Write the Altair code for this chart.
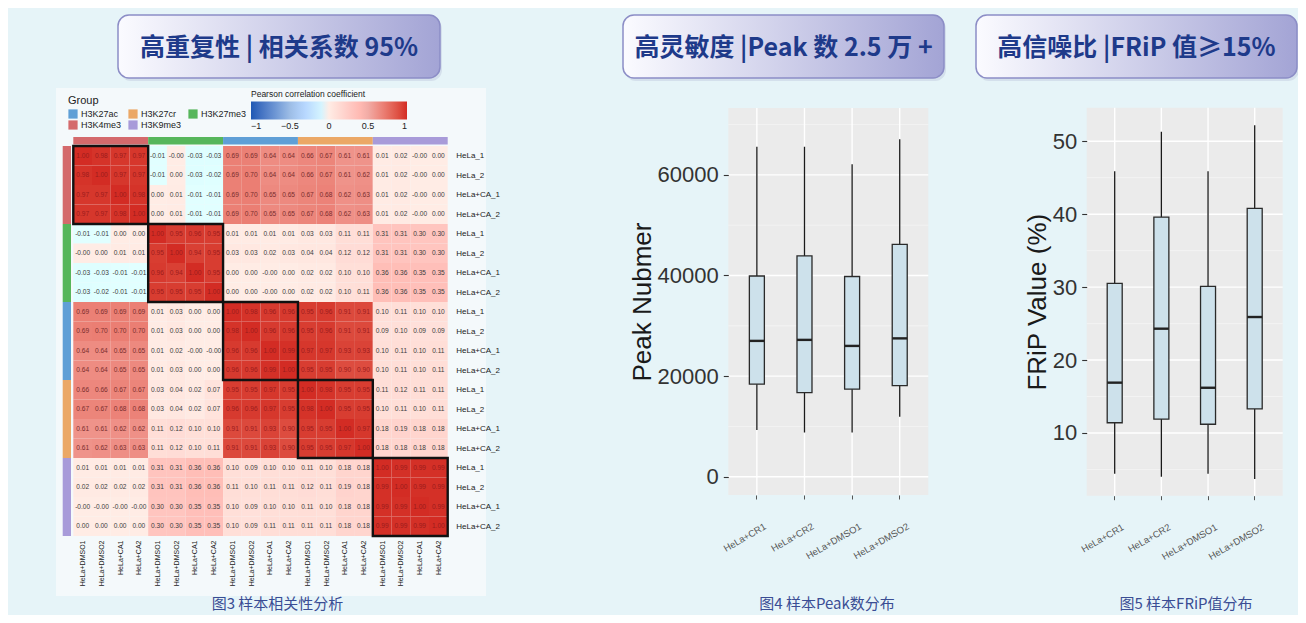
import altair as alt
import pandas as pd

# ---------------- data ----------------
groups = ["H3K4me3", "H3K27me3", "H3K27ac", "H3K27cr", "H3K9me3"]
legend_groups = ["H3K27ac", "H3K27cr", "H3K27me3", "H3K4me3", "H3K9me3"]
legend_colors = ["#5f9fd6", "#eba866", "#56b65b", "#d46a6c", "#a89bd9"]
row_names = ["HeLa_1", "HeLa_2", "HeLa+CA_1", "HeLa+CA_2"]
col_names = ["HeLa+DMSO1", "HeLa+DMSO2", "HeLa+CA1", "HeLa+CA2"]

corr_H3K4me3 = [
    [1.00, 0.98, 0.97, 0.97, -0.01, -0.0, -0.03, -0.03, 0.69, 0.69, 0.64, 0.64, 0.66, 0.67, 0.61, 0.61, 0.01, 0.02, -0.0, 0.00],
    [0.98, 1.00, 0.97, 0.97, -0.01, 0.00, -0.03, -0.02, 0.69, 0.70, 0.64, 0.64, 0.66, 0.67, 0.61, 0.62, 0.01, 0.02, -0.0, 0.00],
    [0.97, 0.97, 1.00, 0.98, 0.00, 0.01, -0.01, -0.01, 0.69, 0.70, 0.65, 0.65, 0.67, 0.68, 0.62, 0.63, 0.01, 0.02, -0.0, 0.00],
    [0.97, 0.97, 0.98, 1.00, 0.00, 0.01, -0.01, -0.01, 0.69, 0.70, 0.65, 0.65, 0.67, 0.68, 0.62, 0.63, 0.01, 0.02, -0.0, 0.00],
]
corr_H3K27me3 = [
    [-0.01, -0.01, 0.00, 0.00, 1.00, 0.95, 0.96, 0.95, 0.01, 0.01, 0.01, 0.01, 0.03, 0.03, 0.11, 0.11, 0.31, 0.31, 0.30, 0.30],
    [-0.0, 0.00, 0.01, 0.01, 0.95, 1.00, 0.94, 0.95, 0.03, 0.03, 0.02, 0.03, 0.04, 0.04, 0.12, 0.12, 0.31, 0.31, 0.30, 0.30],
    [-0.03, -0.03, -0.01, -0.01, 0.96, 0.94, 1.00, 0.95, 0.00, 0.00, -0.0, 0.00, 0.02, 0.02, 0.10, 0.10, 0.36, 0.36, 0.35, 0.35],
    [-0.03, -0.02, -0.01, -0.01, 0.95, 0.95, 0.95, 1.00, 0.00, 0.00, -0.0, 0.00, 0.02, 0.02, 0.10, 0.11, 0.36, 0.36, 0.35, 0.35],
]
corr_H3K27ac = [
    [0.69, 0.69, 0.69, 0.69, 0.01, 0.03, 0.00, 0.00, 1.00, 0.98, 0.96, 0.96, 0.95, 0.96, 0.91, 0.91, 0.10, 0.11, 0.10, 0.10],
    [0.69, 0.70, 0.70, 0.70, 0.01, 0.03, 0.00, 0.00, 0.98, 1.00, 0.96, 0.96, 0.95, 0.96, 0.91, 0.91, 0.09, 0.10, 0.09, 0.09],
    [0.64, 0.64, 0.65, 0.65, 0.01, 0.02, -0.0, -0.0, 0.96, 0.96, 1.00, 0.99, 0.97, 0.97, 0.93, 0.93, 0.10, 0.11, 0.10, 0.11],
    [0.64, 0.64, 0.65, 0.65, 0.01, 0.03, 0.00, 0.00, 0.96, 0.96, 0.99, 1.00, 0.95, 0.95, 0.90, 0.90, 0.10, 0.11, 0.10, 0.11],
]
corr_H3K27cr = [
    [0.66, 0.66, 0.67, 0.67, 0.03, 0.04, 0.02, 0.07, 0.95, 0.95, 0.97, 0.95, 1.00, 0.98, 0.95, 0.95, 0.11, 0.12, 0.11, 0.11],
    [0.67, 0.67, 0.68, 0.68, 0.03, 0.04, 0.02, 0.07, 0.96, 0.96, 0.97, 0.95, 0.98, 1.00, 0.95, 0.95, 0.10, 0.11, 0.10, 0.11],
    [0.61, 0.61, 0.62, 0.62, 0.11, 0.12, 0.10, 0.10, 0.91, 0.91, 0.93, 0.90, 0.95, 0.95, 1.00, 0.97, 0.18, 0.19, 0.18, 0.18],
    [0.61, 0.62, 0.63, 0.63, 0.11, 0.12, 0.10, 0.11, 0.91, 0.91, 0.93, 0.90, 0.95, 0.95, 0.97, 1.00, 0.18, 0.18, 0.18, 0.18],
]
corr_H3K9me3 = [
    [0.01, 0.01, 0.01, 0.01, 0.31, 0.31, 0.36, 0.36, 0.10, 0.09, 0.10, 0.10, 0.11, 0.10, 0.18, 0.18, 1.00, 0.99, 0.99, 0.99],
    [0.02, 0.02, 0.02, 0.02, 0.31, 0.31, 0.36, 0.36, 0.11, 0.10, 0.11, 0.11, 0.12, 0.11, 0.19, 0.18, 0.99, 1.00, 0.99, 0.99],
    [-0.0, -0.0, -0.0, -0.0, 0.30, 0.30, 0.35, 0.35, 0.10, 0.09, 0.10, 0.10, 0.11, 0.10, 0.18, 0.18, 0.99, 0.99, 1.00, 0.99],
    [0.00, 0.00, 0.00, 0.00, 0.30, 0.30, 0.35, 0.35, 0.10, 0.09, 0.11, 0.11, 0.11, 0.11, 0.18, 0.18, 0.99, 0.99, 0.99, 1.00],
]
corr_blocks = [corr_H3K4me3, corr_H3K27me3, corr_H3K27ac, corr_H3K27cr, corr_H3K9me3]
corr_ticks = [-1, -0.5, 0, 0.5, 1]

samples = ["HeLa+CR1", "HeLa+CR2", "HeLa+DMSO1", "HeLa+DMSO2"]
peak_low = [9300, 8800, 8800, 11900]
peak_q1 = [18400, 16700, 17400, 18100]
peak_median = [27000, 27200, 26000, 27500]
peak_q3 = [39900, 43900, 39800, 46200]
peak_high = [65600, 65600, 62100, 67100]
peak_ticks = [0, 20000, 40000, 60000]
peak_minor = [10000, 30000, 50000, 70000]

frip_low = [4.4, 4.0, 4.4, 3.7]
frip_q1 = [11.4, 11.9, 11.2, 13.3]
frip_median = [16.9, 24.3, 16.2, 25.9]
frip_q3 = [30.5, 39.6, 30.1, 40.8]
frip_high = [45.9, 51.3, 45.9, 52.2]
frip_ticks = [10, 20, 30, 40, 50]
frip_minor = [5, 15, 25, 35, 45]

title_texts = ["高重复性 | 相关系数 95%", "高灵敏度 |Peak 数 2.5 万 +", "高信噪比 |FRiP 值≥15%"]
caption_texts = ["图3 样本相关性分析", "图4 样本Peak数分布", "图5 样本FRiP值分布"]

# ---------------- layout helpers ----------------
OFF = 8
CW, CH = 1290, 607
SANS = "Liberation Sans"
CJK = "Noto Sans CJK SC"


def c(v):
    return v - OFF


dummy = pd.DataFrame({"k": [0]})


def deco_rect(x1, x2, y1, y2, **kw):
    return alt.Chart(dummy).mark_rect(**kw).encode(
        x=alt.value(c(x1)), x2=alt.value(c(x2)), y=alt.value(c(y1)), y2=alt.value(c(y2))
    )


def deco_text(txt, x, y, **kw):
    return alt.Chart(dummy).mark_text(text=txt, **kw).encode(x=alt.value(c(x)), y=alt.value(c(y)))


layers = []

# ---------------- title boxes & captions ----------------
grad = alt.LinearGradient(
    gradient="linear",
    stops=[alt.GradientStop(color="#fbfbff", offset=0), alt.GradientStop(color="#a3a4d5", offset=1)],
    x1=0, x2=1, y1=0, y2=0,
)
boxes = [(118, 440), (623, 944), (976, 1297)]
for (x1, x2), t in zip(boxes, title_texts):
    layers.append(deco_rect(x1 + 2, x2 + 2, 18, 81, fill="#9ea3c8", opacity=0.25, cornerRadius=11))
    layers.append(deco_rect(x1, x2, 15, 78, fill=grad, stroke="#8c8dc6", strokeWidth=1.5, cornerRadius=11))
    layers.append(deco_text(t, (x1 + x2) / 2, 48, font=CJK, fontSize=25, fontWeight="bold",
                            color="#1e3a8a", align="center", baseline="middle"))

caption_x = [277.5, 827, 1186]
for t, x in zip(caption_texts, caption_x):
    layers.append(deco_text(t, x, 604, font=CJK, fontSize=15, color="#3a4d94",
                            align="center", baseline="middle"))

# ---------------- heatmap ----------------
layers.append(deco_rect(56, 486, 88, 596, fill="#f4f9fb"))

hm_rows = []
for g, block in enumerate(corr_blocks):
    for i, vals in enumerate(block):
        r = g * 4 + i
        for col, v in enumerate(vals):
            tc = "#9b1c1c" if v >= 0.85 else ("#7a2e2e" if v >= 0.5 else "#3d3d3d")
            hm_rows.append(dict(r=r, r1=r + 1, ry=r + 0.5, c=col, c1=col + 1, cx=col + 0.5,
                                v=v, lab=f"{v:.2f}", tc=tc))
hm = pd.DataFrame(hm_rows)

hx = alt.Scale(domain=[0, 20], range=[c(73.3), c(447.7)], nice=False, zero=False)
hy = alt.Scale(domain=[0, 20], range=[c(146), c(536)], nice=False, zero=False)
corr_scale = alt.Scale(domain=corr_ticks, range=["#1f58b4", "#9dbde6", "#ffffff", "#f2aca6", "#d32c24"])

cells = alt.Chart(hm).mark_rect().encode(
    x=alt.X("c:Q", scale=hx, axis=None), x2="c1:Q",
    y=alt.Y("r:Q", scale=hy, axis=None), y2="r1:Q",
    color=alt.Color("v:Q", scale=corr_scale, legend=alt.Legend(
        orient="none", legendX=c(251), legendY=c(90), direction="horizontal",
        title="Pearson correlation coefficient", titleFontSize=8.5, titleFont=SANS,
        titleFontWeight="normal", titleColor="#222", titlePadding=3,
        gradientLength=156, gradientThickness=18, gradientStrokeWidth=0,
        labelFontSize=9, labelFont=SANS, labelColor="#222", values=corr_ticks, format="~g")),
)
layers.append(cells)

row_expr = "[" + ",".join(f"'{n}'" for n in row_names) + "][floor(datum.value) % 4]"
col_expr = "[" + ",".join(f"'{n}'" for n in col_names) + "][floor(datum.value) % 4]"
centers = [i + 0.5 for i in range(20)]

cell_text = alt.Chart(hm).mark_text(font=SANS, fontSize=6.6).encode(
    x=alt.X("cx:Q", scale=hx, axis=alt.Axis(
        orient="bottom", offset=-(CH - c(536)), values=centers, labelExpr=col_expr,
        labelAngle=-90, labelFontSize=7, labelFont=SANS, labelColor="#222",
        ticks=False, domain=False, grid=False, title=None, labelPadding=4,
        labelOverlap=False, zindex=2)),
    y=alt.Y("ry:Q", scale=hy, axis=alt.Axis(
        orient="right", offset=-(CW - c(447.7)), values=centers, labelExpr=row_expr,
        labelFontSize=8, labelFont=SANS, labelColor="#222",
        ticks=False, domain=False, grid=False, title=None, labelPadding=8,
        labelOverlap=False, zindex=2)),
    text="lab:N",
    color=alt.Color("tc:N", scale=None),
)
layers.append(cell_text)

ann = pd.DataFrame({"group": groups, "s": [4 * i for i in range(5)], "e": [4 * i + 4 for i in range(5)]})
grp_scale = alt.Scale(domain=legend_groups, range=legend_colors)

col_ann = alt.Chart(ann).mark_rect().encode(
    x=alt.X("s:Q", scale=hx, axis=None), x2="e:Q",
    y=alt.value(c(137)), y2=alt.value(c(144.5)),
    color=alt.Color("group:N", scale=grp_scale, legend=alt.Legend(
        orient="none", legendX=c(68), legendY=c(95), direction="horizontal", columns=3,
        title="Group", titleFontSize=11, titleFont=SANS, titleFontWeight="normal",
        titleColor="#222", titlePadding=3, symbolType="square", symbolSize=85,
        symbolStrokeWidth=0, labelFontSize=9, labelFont=SANS, labelColor="#222",
        columnPadding=6, rowPadding=1, labelOffset=3)),
)
row_ann = alt.Chart(ann).mark_rect().encode(
    y=alt.Y("s:Q", scale=hy, axis=None), y2="e:Q",
    x=alt.value(c(62.7)), x2=alt.value(c(71)),
    color=alt.Color("group:N", scale=grp_scale, legend=None),
)
blocks = alt.Chart(ann).mark_rect(fillOpacity=0, stroke="#111111", strokeWidth=2.4).encode(
    x=alt.X("s:Q", scale=hx, axis=None), x2="e:Q",
    y=alt.Y("s:Q", scale=hy, axis=None), y2="e:Q",
)
layers += [col_ann, row_ann, blocks]


# ---------------- box plots ----------------
def boxpanel(df, x0, x1, y_top, y_bot, domain, ticks, minor, title, fmt):
    bx = alt.Scale(type="band", domain=samples, range=[c(x0), c(x1)], paddingInner=0, paddingOuter=0.1)
    by = alt.Scale(domain=domain, range=[c(y_bot), c(y_top)], nice=False, zero=False)
    out = [deco_rect(x0, x1, y_top, y_bot, fill="#ebebeb")]
    out.append(alt.Chart(pd.DataFrame({"g": minor})).mark_rule(color="#f7f7f7", strokeWidth=0.7).encode(
        y=alt.Y("g:Q", scale=by, axis=None), x=alt.value(c(x0)), x2=alt.value(c(x1))))
    out.append(alt.Chart(pd.DataFrame({"g": ticks})).mark_rule(color="#ffffff", strokeWidth=1.4).encode(
        y=alt.Y("g:Q", scale=by, axis=None), x=alt.value(c(x0)), x2=alt.value(c(x1))))
    out.append(alt.Chart(pd.DataFrame({"sample": samples})).mark_rule(color="#ffffff", strokeWidth=1.4).encode(
        x=alt.X("sample:N", scale=bx, axis=None), y=alt.value(c(y_top)), y2=alt.value(c(y_bot))))
    out.append(alt.Chart(df).mark_rule(color="#1a1a1a", strokeWidth=1.3).encode(
        x=alt.X("sample:N", scale=bx, axis=None),
        y=alt.Y("low:Q", scale=by, axis=None), y2="high:Q"))
    out.append(alt.Chart(df).mark_bar(size=15, fill="#cde1eb", stroke="#2a2a2a", strokeWidth=1.3).encode(
        x=alt.X("sample:N", scale=bx, axis=alt.Axis(
            orient="bottom", offset=-(CH - c(y_bot)), labelAngle=-30, labelFontSize=9.5,
            labelFont=SANS, labelColor="#555555", tickColor="#555555", tickSize=4,
            domain=False, grid=False, title=None, labelPadding=22, labelOffset=6, zindex=2)),
        y=alt.Y("q1:Q", scale=by, axis=alt.Axis(
            orient="left", offset=-c(x0), values=ticks, format=fmt, labelFontSize=22,
            labelFont=SANS, labelColor="#333333", tickColor="#333333", tickSize=5,
            tickWidth=1.1, labelPadding=5, domain=False, grid=False, title=title,
            titleFontSize=26, titleFont=SANS, titleFontWeight="normal", titleColor="#1a1a1a",
            titlePadding=2, zindex=2)),
        y2="q3:Q"))
    out.append(alt.Chart(df).mark_tick(size=15, thickness=2.4, color="#222222", opacity=1).encode(
        x=alt.X("sample:N", scale=bx, axis=None),
        y=alt.Y("median:Q", scale=by, axis=None)))
    return out


peak_df = pd.DataFrame({"sample": samples, "low": peak_low, "q1": peak_q1, "median": peak_median,
                        "q3": peak_q3, "high": peak_high})
frip_df = pd.DataFrame({"sample": samples, "low": frip_low, "q1": frip_q1, "median": frip_median,
                        "q3": frip_q3, "high": frip_high})

layers += boxpanel(peak_df, 728.3, 928.3, 108, 495, [-3640, 73300], peak_ticks, peak_minor, "Peak Nubmer", "d")
layers += boxpanel(frip_df, 1086.7, 1282.7, 107.7, 495.7, [1.4, 54.6], frip_ticks, frip_minor, "FRiP Value (%)", "d")

chart = alt.layer(*layers).resolve_scale(
    x="independent", y="independent", color="independent"
).resolve_legend(color="independent").properties(
    width=CW, height=CH, padding=0, autosize=alt.AutoSizeParams(type="none")
).configure(background="#e6f4f8").configure_view(stroke=None)

chart.save("out.html", embed_options={"renderer": "svg", "actions": False})
